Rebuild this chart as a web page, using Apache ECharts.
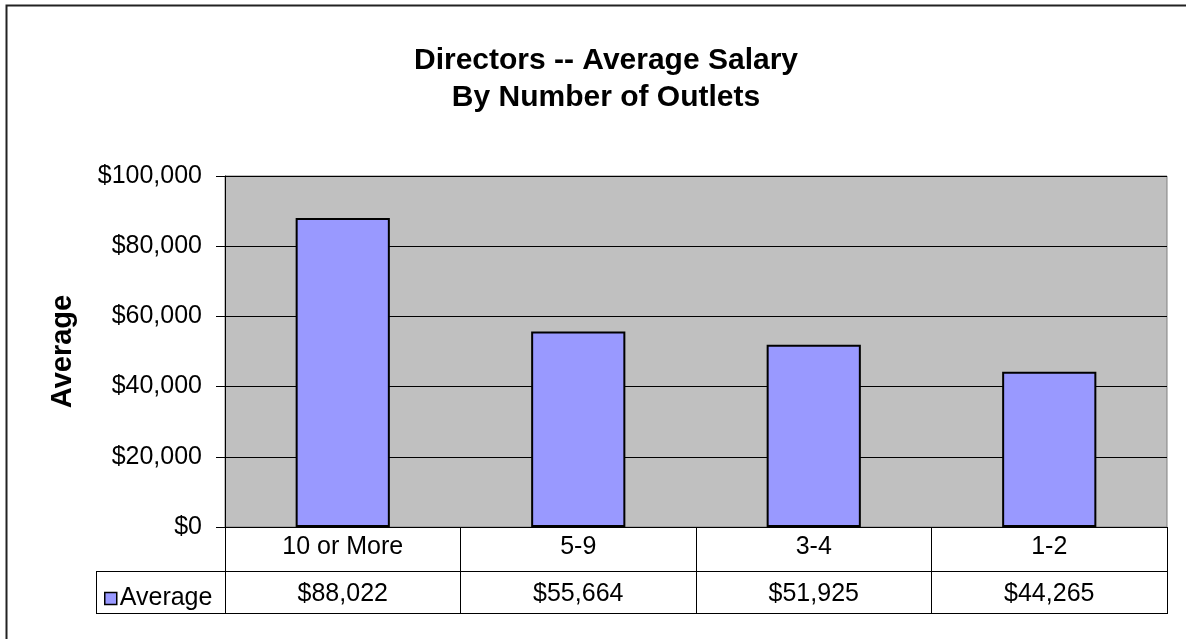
<!DOCTYPE html>
<html>
<head>
<meta charset="utf-8">
<script src="https://cdn.jsdelivr.net/npm/echarts@6/dist/echarts.min.js"></script>
<style>
  html, body { margin: 0; padding: 0; background: #fff; }
  #chart { width: 1186px; height: 639px; }
</style>
</head>
<body>
<div id="chart"></div>
<script>
// data
const categories = ['10 or More', '5-9', '3-4', '1-2'];
const averages = [88022, 55664, 51925, 44265];
const seriesName = 'Average';
const yMin = 0;
const yMax = 100000;
const yStep = 20000;

// $88,022 style
function money (v) {
  return '$' + Number(v).toLocaleString('en-US');
}

const font = '"Liberation Sans", Arial, sans-serif';
const black = '#000';
const tableLeft = 96;

const chart = echarts.init(document.getElementById('chart'), null, { renderer: 'canvas' });

chart.setOption({
  animation: false,
  backgroundColor: '#fff',
  textStyle: { fontFamily: font },
  title: {
    text: 'Directors -- Average Salary\nBy Number of Outlets',
    left: 601,
    textAlign: 'center',
    top: 37,
    textStyle: {
      fontFamily: font,
      fontSize: 30,
      fontWeight: 'bold',
      color: black,
      lineHeight: 37
    }
  },
  legend: {
    data: [seriesName],
    left: tableLeft + 3,
    top: 581,
    icon: 'rect',
    itemWidth: 12,
    itemHeight: 12,
    itemGap: 4,
    selectedMode: false,
    itemStyle: { borderColor: black, borderWidth: 1.5 },
    textStyle: { fontFamily: font, fontSize: 25, color: black, padding: [0, 0, 0, -2] }
  },
  grid: {
    left: 225,
    right: 19,
    top: 176,
    bottom: 112,
    show: true,
    backgroundColor: '#C0C0C0',
    borderColor: '#808080',
    borderWidth: 1
  },
  xAxis: [
    {
      type: 'category',
      data: categories,
      position: 'bottom',
      axisLine: { show: true, lineStyle: { color: black, width: 1 } },
      axisTick: { show: true, length: 44, interval: 0, lineStyle: { color: black } },
      axisLabel: { fontFamily: font, fontSize: 25, color: black, margin: 8, interval: 0 }
    },
    {
      type: 'category',
      data: categories,
      position: 'bottom',
      offset: 44,
      axisLine: { show: true, lineStyle: { color: black, width: 1 } },
      axisTick: { show: true, length: 42, interval: 0, lineStyle: { color: black } },
      axisLabel: {
        fontFamily: font, fontSize: 25, color: black, margin: 11, interval: 0,
        formatter: (v, i) => money(averages[i])
      }
    }
  ],
  yAxis: {
    type: 'value',
    min: yMin,
    max: yMax,
    interval: yStep,
    name: seriesName,
    nameLocation: 'middle',
    nameRotate: 90,
    nameGap: 148,
    nameTextStyle: { fontFamily: font, fontSize: 29, fontWeight: 'bold', color: black },
    axisLine: { show: true, lineStyle: { color: black, width: 1 } },
    axisTick: { show: true, length: 9, lineStyle: { color: black } },
    axisLabel: { fontFamily: font, fontSize: 25, color: black, margin: 23, formatter: money },
    splitLine: { show: true, lineStyle: { color: black, width: 1 } }
  },
  series: [{
    name: seriesName,
    type: 'bar',
    data: averages,
    barWidth: '40%',
    silent: true,
    itemStyle: { color: '#9999FF', borderColor: black, borderWidth: 2 }
  }],
  graphic: [
    // outer chart frame, runs past the right and bottom edges
    { type: 'rect', silent: true, shape: { x: 6.5, y: 5.5, width: 1300, height: 700 },
      style: { fill: null, stroke: '#222', lineWidth: 2 } },
    // data table: the left legend cell and the bottom rule
    { type: 'line', silent: true, shape: { x1: tableLeft, y1: 571.5, x2: 225, y2: 571.5 },
      style: { stroke: black, lineWidth: 1 } },
    { type: 'line', silent: true, shape: { x1: tableLeft, y1: 613.5, x2: 1168, y2: 613.5 },
      style: { stroke: black, lineWidth: 1 } },
    { type: 'line', silent: true, shape: { x1: tableLeft + 0.5, y1: 571, x2: tableLeft + 0.5, y2: 614 },
      style: { stroke: black, lineWidth: 1 } }
  ]
});
</script>
</body>
</html>
